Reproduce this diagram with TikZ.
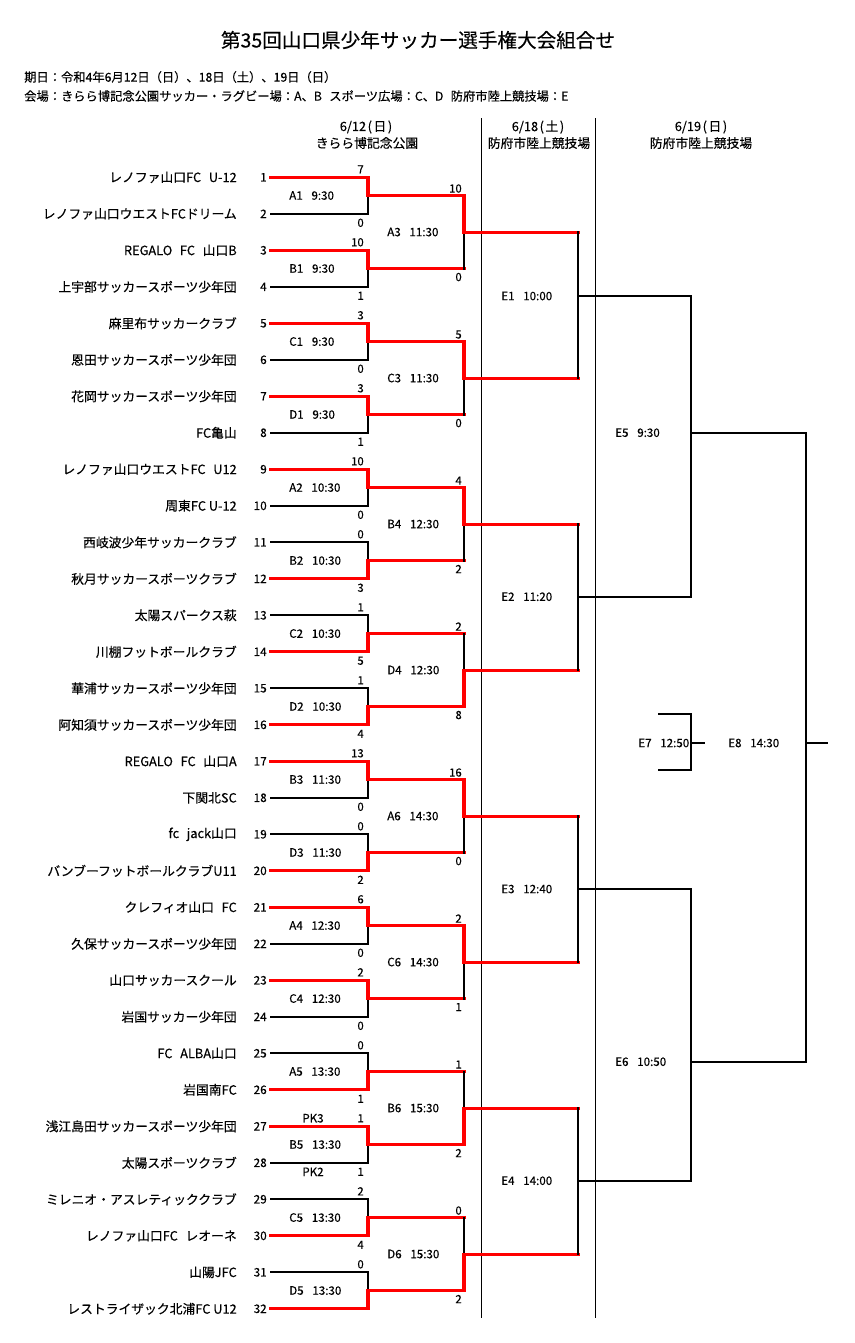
\documentclass[tikz,border=0pt]{standalone}
\usepackage{fontspec}
\setmainfont{Noto Sans CJK JP}[FakeBold=0.3]
\usetikzlibrary{calc}
\definecolor{winred}{RGB}{255,0,0}
\newcommand{\gp}{\hspace{0.6em}}
\newcommand{\labgap}{\hspace{0.75em}}
\newcommand{\pp}{\hspace{0.12em}}
\begin{document}
\begin{tikzpicture}[x=0.75pt,y=-0.75pt,
  brk/.style={line width=1.5pt,black,line cap=rect},
  win/.style={line width=2.3pt,winred,line cap=rect},
  divl/.style={line width=0.85pt,black},
  e7l/.style={line width=0.9pt,black},
  nm/.style={font=\fontsize{9.6}{11}\selectfont,inner sep=0pt,anchor=east},
  num/.style={font=\fontsize{8.8}{10}\selectfont,inner sep=0pt,anchor=east},
  sc/.style={font=\fontsize{8.5}{10}\selectfont,inner sep=0pt,anchor=east},
  lb/.style={font=\fontsize{8.7}{10}\selectfont,inner sep=0pt,anchor=west},
  hd/.style={font=\fontsize{9.2}{11}\selectfont,inner sep=0pt,anchor=west},
  col/.style={font=\fontsize{9.6}{11}\selectfont,inner sep=0pt}]
\useasboundingbox (0,0) rectangle (855,1343);
\fill[white] (0,0) rectangle (855,1343);

% header
\node[font=\fontsize{14.7}{17}\selectfont,inner sep=0pt] (title) at (418,40) {第35回山口県少年サッカー選手権大会組合せ};
\node[hd] (date) at (24,77) {期日：令和4年6月12日（日）、18日（土）、19日（日）};
\node[hd] (venue) at (24,96) {会場：きらら博記念公園サッカー・ラグビー場：A、B\gp スポーツ広場：C、D\gp 防府市陸上競技場：E};
\node[col] (d1) at (366,127) {6/12\pp(\pp 日\pp)};
\node[col] (v1) at (367,143) {きらら博記念公園};
\node[col] (d2) at (538,127) {6/18\pp(\pp 土\pp)};
\node[col] (v2) at (539,143) {防府市陸上競技場};
\node[col] (d3) at (701,127) {6/19\pp(\pp 日\pp)};
\node[col] (v3) at (701,143) {防府市陸上競技場};

% dividers
\coordinate (da1) at (481.5,118); \coordinate (db1) at (481.5,1318);
\coordinate (da2) at (595.5,118); \coordinate (db2) at (595.5,1318);
\draw[divl] (da1) -- (db1);
\draw[divl] (da2) -- (db2);

% teams
\foreach \i/\nm in {
1/{レノファ山口FC\gp U-12},
2/{レノファ山口ウエストFCドリーム},
3/{REGALO\gp FC\gp 山口B},
4/{上宇部サッカースポーツ少年団},
5/{麻里布サッカークラブ},
6/{恩田サッカースポーツ少年団},
7/{花岡サッカースポーツ少年団},
8/{FC亀山},
9/{レノファ山口ウエストFC\gp U12},
10/{周東FC U-12},
11/{西岐波少年サッカークラブ},
12/{秋月サッカースポーツクラブ},
13/{太陽スパークス萩},
14/{川棚フットボールクラブ},
15/{華浦サッカースポーツ少年団},
16/{阿知須サッカースポーツ少年団},
17/{REGALO\gp FC\gp 山口A},
18/{下関北SC},
19/{fc\gp jack山口},
20/{バンブーフットボールクラブU11},
21/{クレフィオ山口\gp FC},
22/{久保サッカースポーツ少年団},
23/{山口サッカースクール},
24/{岩国サッカー少年団},
25/{FC\gp ALBA山口},
26/{岩国南FC},
27/{浅江島田サッカースポーツ少年団},
28/{太陽スポーツクラブ},
29/{ミレニオ・アスレティッククラブ},
30/{レノファ山口FC\gp レオーネ},
31/{山陽JFC},
32/{レストライザック北浦FC U12}}
{
  \pgfmathsetmacro{\yy}{177.3+(\i-1)*36.5}
  \coordinate (p\i) at (271,\yy);
  \node[nm] (name\i) at (237,\yy) {\nm};
  \node[num] (no\i) at (267,\yy) {\i};
}

% round 1
\foreach \k/\mc/\mt/\sca/\scb/\w in {
1/A1/9:30/7/0/0, 2/B1/9:30/10/1/0, 3/C1/9:30/3/0/0, 4/D1/9:30/3/1/0,
5/A2/10:30/10/0/0, 6/B2/10:30/0/3/1, 7/C2/10:30/1/5/1, 8/D2/10:30/1/4/1,
9/B3/11:30/13/0/0, 10/D3/11:30/0/2/1, 11/A4/12:30/6/0/0, 12/C4/12:30/2/0/0,
13/A5/13:30/0/1/1, 14/B5/13:30/1/1/0, 15/C5/13:30/2/4/1, 16/D5/13:30/0/2/1}
{
  \pgfmathtruncatemacro{\tA}{2*\k-1}
  \pgfmathtruncatemacro{\tW}{2*\k-1+\w}
  \pgfmathtruncatemacro{\tL}{2*\k-\w}
  \pgfmathsetmacro{\ya}{177.3+(\tA-1)*36.5}
  \pgfmathsetmacro{\yb}{\ya+36.5}
  \pgfmathsetmacro{\ym}{\ya+18.25}
  \pgfmathsetmacro{\ys}{\ya-8}
  \pgfmathsetmacro{\yt}{\yb+9}
  \coordinate (jm\k) at (368,\ym);
  \coordinate (jo\k) at (464,\ym);
  \draw[brk] (p\tL) -- (p\tL -| jm\k) -- (jm\k);
  \draw[win] (p\tW) -- (p\tW -| jm\k) -- (jm\k) -- (jo\k);
  \node[sc] (sa\k) at (364,\ys) {\sca};
  \ifnum\k<16
  \node[sc] (sb\k) at (364,\yt) {\scb};
  \fi
  \node[lb] (m\k) at (289,\ym) {\mc\labgap\mt};
}
\node[font=\fontsize{8.7}{10}\selectfont,inner sep=0pt] (pkA) at (313,1118.3) {PK3};
\node[font=\fontsize{8.7}{10}\selectfont,inner sep=0pt] (pkB) at (313,1171.8) {PK2};

% round 2
\foreach \j/\mc/\mt/\sca/\scb/\w in {
1/A3/11:30/10/0/0, 2/C3/11:30/5/0/0, 3/B4/12:30/4/2/0, 4/D4/12:30/2/8/1,
5/A6/14:30/16/0/0, 6/C6/14:30/2/1/0, 7/B6/15:30/1/2/1, 8/D6/15:30/0/2/1}
{
  \pgfmathtruncatemacro{\kW}{2*\j-1+\w}
  \pgfmathtruncatemacro{\kL}{2*\j-\w}
  \pgfmathsetmacro{\ya}{177.3+(4*\j-4)*36.5+18.25}
  \pgfmathsetmacro{\yb}{\ya+73}
  \pgfmathsetmacro{\ym}{\ya+36.5}
  \pgfmathsetmacro{\ys}{\ya-7}
  \pgfmathsetmacro{\yt}{\yb+8.5}
  \coordinate (km\j) at (464,\ym);
  \coordinate (ko\j) at (578,\ym);
  \draw[brk] (jo\kL) -- (km\j);
  \draw[win] (jo\kW) -- (km\j) -- (ko\j);
  \node[sc] (ta\j) at (462,\ys) {\sca};
  \node[sc] (tb\j) at (462,\yt) {\scb};
  \node[lb] (n\j) at (387,\ym) {\mc\labgap\mt};
}

% round 3 (6/18)
\foreach \e/\oy/\tm in {1/296/10:00, 2/596.7/11:20, 3/889/12:40, 4/1180.7/14:00}
{
  \pgfmathtruncatemacro{\ka}{2*\e-1}
  \pgfmathtruncatemacro{\kb}{2*\e}
  \coordinate (eo\e) at (578,\oy);
  \coordinate (ef\e) at (691,\oy);
  \draw[brk] (ko\ka) -- (ko\kb);
  \draw[brk] (eo\e) -- (ef\e);
  \node[lb] (el\e) at (501,\oy) {E\e\labgap\tm};
}

% 6/19
\coordinate (e5a) at (691,432.7); \coordinate (e5b) at (806,432.7);
\coordinate (e6a) at (691,1061.7); \coordinate (e6b) at (806,1061.7);
\coordinate (e8a) at (806,743); \coordinate (e8b) at (827,743);
\draw[brk] (ef1) -- (ef2);
\draw[brk] (e5a) -- (e5b);
\draw[brk] (ef3) -- (ef4);
\draw[brk] (e6a) -- (e6b);
\draw[brk] (e5b) -- (e6b);
\draw[brk] (e8a) -- (e8b);
\node[lb] (l5) at (615,432.7) {E5\labgap 9:30};
\node[lb] (l6) at (615,1061.7) {E6\labgap 10:50};
\node[lb] (l8) at (728,743) {E8\labgap 14:30};

\coordinate (e7a) at (658,714); \coordinate (e7b) at (691,714);
\coordinate (e7c) at (691,770); \coordinate (e7d) at (658,770);
\coordinate (e7m) at (691,743); \coordinate (e7s) at (705,743);
\draw[e7l] (e7a) -- (e7b) -- (e7c) -- (e7d);
\draw[e7l] (e7m) -- (e7s);
\node[font=\fontsize{8.7}{10}\selectfont,inner sep=0pt,anchor=east] (l7) at (689.5,743) {E7\labgap 12:50};
\end{tikzpicture}
\end{document}
